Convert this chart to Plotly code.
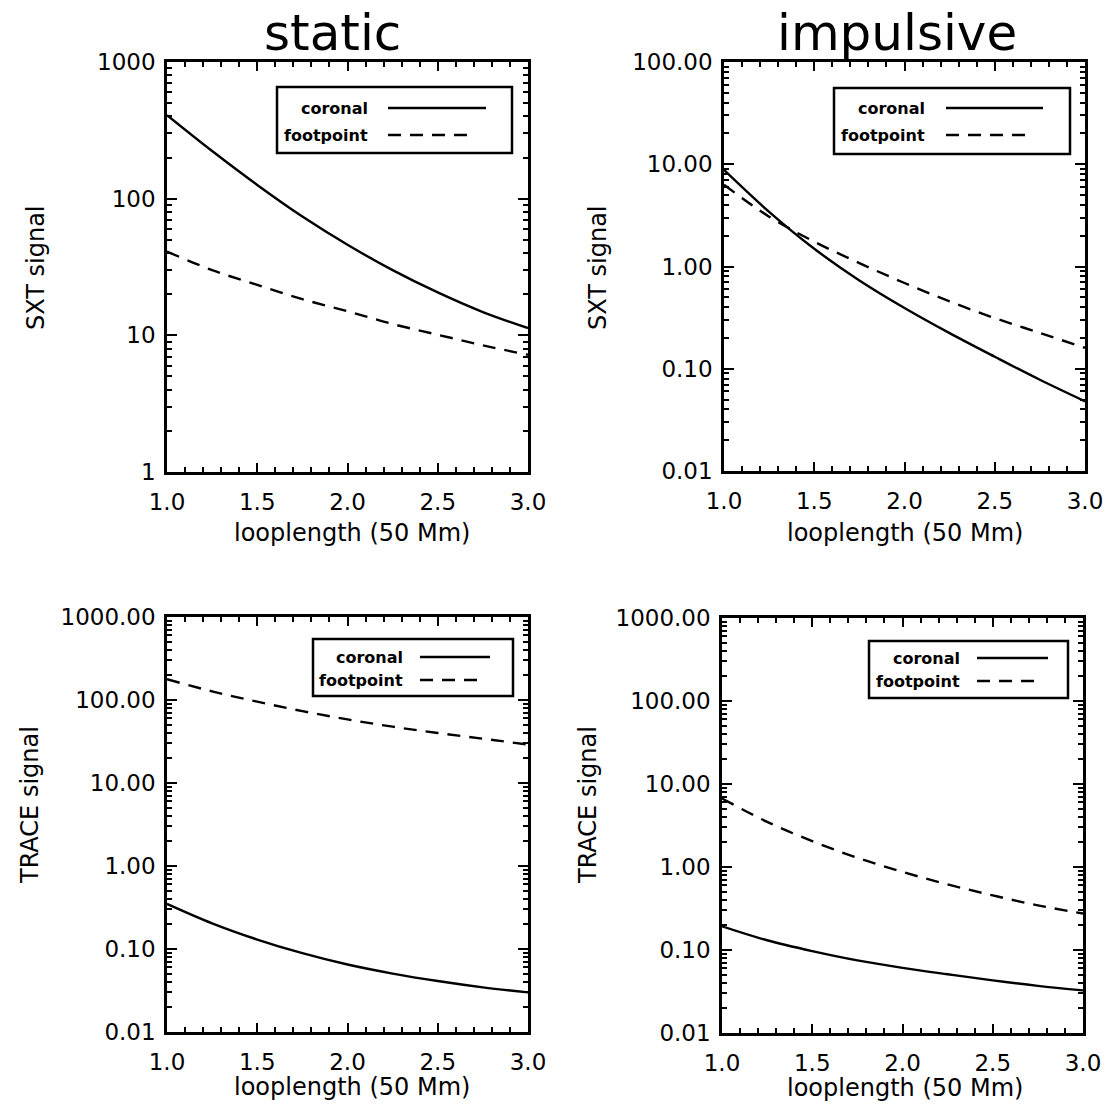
import plotly.graph_objects as go
from plotly.subplots import make_subplots

# ---------------- data ----------------
looplength = [1.0, 1.25, 1.5, 1.75, 2.0, 2.25, 2.5, 2.75, 3.0]

static_sxt_coronal = [408, 223, 126, 74, 46, 30, 20.6, 14.8, 11.3]
static_sxt_footpoint = [41, 30, 23.4, 18.4, 15.0, 12.1, 10.1, 8.45, 7.2]

impulsive_sxt_coronal = [8.8, 3.42, 1.49, 0.731, 0.393, 0.223, 0.131, 0.078, 0.048]
impulsive_sxt_footpoint = [6.3, 3.07, 1.75, 1.08, 0.69, 0.456, 0.313, 0.224, 0.16]

static_trace_coronal = [0.35, 0.204, 0.130, 0.089, 0.065, 0.0506, 0.0411, 0.0345, 0.030]
static_trace_footpoint = [178, 127, 95.5, 73.5, 58.4, 47.7, 40.1, 34.2, 29]

impulsive_trace_coronal = [0.193, 0.131, 0.097, 0.075, 0.061, 0.051, 0.043, 0.037, 0.0326]
impulsive_trace_footpoint = [6.7, 3.5, 2.05, 1.29, 0.873, 0.618, 0.455, 0.345, 0.275]

x_tickvals = [1.0, 1.5, 2.0, 2.5, 3.0]
x_ticktext = ["1.0", "1.5", "2.0", "2.5", "3.0"]

sxt_static_tickvals = [1, 10, 100, 1000]
sxt_static_ticktext = ["1", "10", "100", "1000"]
sxt_imp_tickvals = [0.01, 0.1, 1, 10, 100]
sxt_imp_ticktext = ["0.01", "0.10", "1.00", "10.00", "100.00"]
trace_tickvals = [0.01, 0.1, 1, 10, 100, 1000]
trace_ticktext = ["0.01", "0.10", "1.00", "10.00", "100.00", "1000.00"]

col_titles = ["static", "impulsive"]
row_ytitles = ["SXT signal", "TRACE signal"]
x_title = "looplength (50 Mm)"
series_names = ["coronal", "footpoint"]

# ---------------- layout helpers ----------------
W, H = 1108, 1112
def px(x):
    return x / W
def py(y):
    return 1 - y / H

FONT = "DejaVu Sans"

fig = make_subplots(rows=2, cols=2)

panels = [
    (1, 1, static_sxt_coronal, static_sxt_footpoint, [0, 3], sxt_static_tickvals, sxt_static_ticktext),
    (1, 2, impulsive_sxt_coronal, impulsive_sxt_footpoint, [-2, 2], sxt_imp_tickvals, sxt_imp_ticktext),
    (2, 1, static_trace_coronal, static_trace_footpoint, [-2, 3], trace_tickvals, trace_ticktext),
    (2, 2, impulsive_trace_coronal, impulsive_trace_footpoint, [-2, 3], trace_tickvals, trace_ticktext),
]

# pixel boxes of the plot areas (left, right, top, bottom)
boxes = {
    (1, 1): (167, 528, 62, 472),
    (1, 2): (724, 1085, 62, 471),
    (2, 1): (167, 528, 617, 1032),
    (2, 2): (722, 1083, 618, 1033),
}

def minor_log(lo, hi):
    vals = []
    for e in range(lo, hi):
        for k in range(2, 10):
            vals.append(k * 10.0 ** e)
    return vals

x_minor = [round(1.0 + 0.1 * i, 2) for i in range(21) if i % 5 != 0]

for (r, c, cor, foot, yr, tv, tt) in panels:
    fig.add_trace(go.Scatter(x=looplength, y=cor, mode="lines", name=series_names[0],
                             line=dict(color="black", width=2.4, shape="spline", smoothing=1.0),
                             showlegend=False), row=r, col=c)
    fig.add_trace(go.Scatter(x=looplength, y=foot, mode="lines", name=series_names[1],
                             line=dict(color="black", width=2.4, dash="13px,9px", shape="spline", smoothing=1.0),
                             showlegend=False), row=r, col=c)
    L, R, T, B = boxes[(r, c)]
    fig.update_xaxes(range=[1, 3], domain=[px(L), px(R)], automargin=False,
                     showline=True, linecolor="black", linewidth=2.5, mirror="allticks",
                     ticks="inside", ticklen=9, tickwidth=2, tickcolor="black",
                     tickmode="array", tickvals=x_tickvals, ticktext=x_ticktext,
                     tickfont=dict(family=FONT, size=23, color="black"),
                     ticklabelstandoff=8,
                     minor=dict(ticks="inside", ticklen=5, tickwidth=1.5, tickcolor="black",
                                tickmode="array", tickvals=x_minor, showgrid=False),
                     showgrid=False, zeroline=False, row=r, col=c)
    fig.update_yaxes(type="log", range=yr, domain=[py(B), py(T)], automargin=False,
                     showline=True, linecolor="black", linewidth=2.5, mirror="allticks",
                     ticks="inside", ticklen=10, tickwidth=2, tickcolor="black",
                     tickmode="array", tickvals=tv, ticktext=tt,
                     tickfont=dict(family=FONT, size=23, color="black"),
                     ticklabelstandoff=4,
                     minor=dict(ticks="inside", ticklen=5, tickwidth=1.5, tickcolor="black",
                                tickmode="array", tickvals=minor_log(yr[0], yr[1]), showgrid=False),
                     showgrid=False, zeroline=False, row=r, col=c)

annotations = []
shapes = []

def ann(text, x, y, size, xanchor="center", angle=0):
    return dict(text=text, x=px(x), y=py(y), xref="paper", yref="paper",
                xanchor=xanchor, yanchor="middle", textangle=angle, showarrow=False,
                font=dict(family=FONT, size=size, color="black"))

# column titles
annotations.append(ann(col_titles[0], 332, 33, 50))
annotations.append(ann(col_titles[1], 897, 33, 50))

# x axis titles
for (cx, cy) in [(352, 533), (905, 533), (352, 1087), (905, 1088)]:
    annotations.append(ann(x_title, cx, cy, 24))

# y axis titles
for (txt, cx, cy) in [(row_ytitles[0], 36, 268), (row_ytitles[0], 598, 268),
                      (row_ytitles[1], 30, 805), (row_ytitles[1], 588, 805)]:
    annotations.append(ann(txt, cx, cy, 24, angle=-90))

# legend boxes: (box L, R, T, B, text right edge, row1 y, row2 y, line start, solid end, dashed end)
legends = [
    (277, 512, 87, 153, 370, 108, 135, 388, 486, 473),
    (834, 1070, 88, 154, 927, 108, 135, 946, 1043, 1031),
    (313, 513, 639, 696, 405, 657, 680, 420, 490, 482),
    (869, 1068, 641, 698, 962, 658, 681, 977, 1048, 1038),
]
for (bl, br, bt, bb, tx, y1, y2, ls, le1, le2) in legends:
    shapes.append(dict(type="rect", xref="paper", yref="paper",
                       x0=px(bl), x1=px(br), y0=py(bb), y1=py(bt),
                       line=dict(color="black", width=2.5), fillcolor="white", layer="above"))
    annotations.append(ann("<b>" + series_names[0] + "</b>", tx, y1, 16, xanchor="right"))
    annotations.append(ann("<b>" + series_names[1] + "</b>", tx, y2, 16, xanchor="right"))
    shapes.append(dict(type="line", xref="paper", yref="paper",
                       x0=px(ls), x1=px(le1), y0=py(y1), y1=py(y1),
                       line=dict(color="black", width=2.3), layer="above"))
    shapes.append(dict(type="line", xref="paper", yref="paper",
                       x0=px(ls), x1=px(le2), y0=py(y2), y1=py(y2),
                       line=dict(color="black", width=2.3, dash="13px,9px"), layer="above"))

fig.update_layout(width=W, height=H, autosize=False,
                  margin=dict(l=0, r=0, t=0, b=0),
                  paper_bgcolor="white", plot_bgcolor="white",
                  showlegend=False, annotations=annotations, shapes=shapes)

fig.write_html("out.html",
               config={"displayModeBar": False},
               post_script="document.body.style.margin='0px';document.body.style.padding='0px';document.body.style.overflow='hidden';")
